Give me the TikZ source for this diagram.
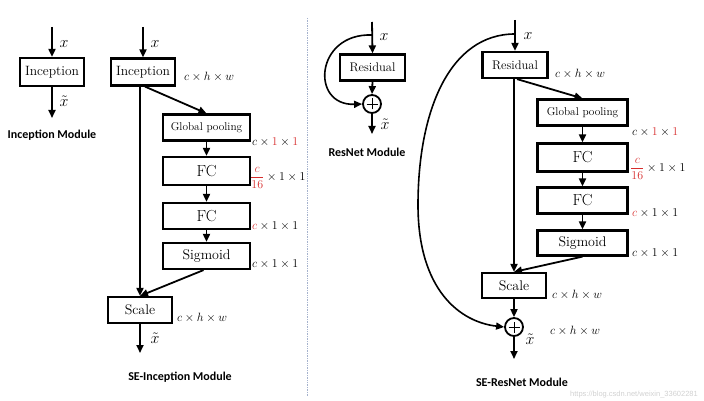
\RequirePackage{fix-cm}
\documentclass[tikz,border=0pt]{standalone}
\usepackage{fontspec}
\newfontfamily\titlefont{Carlito}
\newfontfamily\wmfont{Liberation Sans}
\usetikzlibrary{arrows.meta}
\definecolor{sered}{RGB}{215,45,45}
\definecolor{divc}{RGB}{165,178,205}
\begin{document}
\begin{tikzpicture}[x=1pt,y=-1pt,
  blk/.style={draw, line width=2.2pt, inner sep=0pt, minimum height=26pt},
  arr/.style={line width=1.8pt, -{Triangle[length=8pt,width=7pt]}},
  lbl/.style={anchor=west, inner sep=0pt, font=\fontsize{12}{14}\selectfont},
  xl/.style={inner sep=0pt, font=\fontsize{16}{18}\selectfont},
  ttl/.style={inner sep=0pt, font=\titlefont\bfseries\fontsize{12}{14}\selectfont},
  sumc/.style={draw, circle, line width=1.8pt, minimum size=18pt, inner sep=0pt,
    path picture={\draw[line width=0.7pt]
      ([xshift=-5.5pt]path picture bounding box.center) -- ([xshift=5.5pt]path picture bounding box.center)
      ([yshift=-5.5pt]path picture bounding box.center) -- ([yshift=5.5pt]path picture bounding box.center);}}
]
\useasboundingbox (0,0) rectangle (704,401);

% ---------- Inception Module ----------
\coordinate (a0) at (52,27);
\node[blk, minimum width=64pt, minimum height=28pt, font=\rmfamily\fontsize{13.5}{15}\selectfont] (inc1) at (52,72) {Inception};
\coordinate (a1) at (52,118);
\draw[arr] (a0) -- (inc1.north);
\draw[arr] (inc1.south) -- (a1);
\node[xl] (x1) at (64,44) {$x$};
\node[xl] (xt1) at (64,101) {$\tilde{x}$};
\node[ttl] (t1) at (52,135) {Inception Module};

% ---------- SE-Inception Module ----------
\coordinate (b0) at (143,27);
\node[blk, minimum width=64pt, minimum height=27pt, font=\rmfamily\fontsize{13.5}{15}\selectfont] (inc2) at (143,72) {Inception};
\node[blk, minimum width=87pt, font=\rmfamily\fontsize{11.3}{13}\selectfont] (gp1) at (206.5,127.5) {Global pooling};
\node[blk, minimum width=87pt, minimum height=28pt, font=\rmfamily\fontsize{16}{18}\selectfont] (fca1) at (206.5,171) {FC};
\node[blk, minimum width=87pt, font=\rmfamily\fontsize{16}{18}\selectfont] (fcb1) at (206.5,216) {FC};
\node[blk, minimum width=87pt, font=\rmfamily\fontsize{14}{16}\selectfont] (sig1) at (206.5,256) {Sigmoid};
\node[blk, minimum width=64pt, font=\rmfamily\fontsize{14}{16}\selectfont] (sc1) at (140,310) {Scale};
\coordinate (b1) at (140,353);
\draw[arr] (b0) -- (inc2.north);
\draw[arr] ([xshift=2pt]inc2.south) -- (gp1.north);
\draw[arr] (gp1) -- (fca1);
\draw[arr] (fca1) -- (fcb1);
\draw[arr] (fcb1) -- (sig1);
\draw[arr] ([xshift=-3pt]sig1.south) -- (sc1.north);
\draw[arr] (sc1.north |- inc2.south) -- (sc1.north);
\draw[arr] (sc1.south) -- (b1);
\node[xl] (x2) at (155,44) {$x$};
\node[xl] (xt2) at (155,338) {$\tilde{x}$};
\node[lbl] (l21) at (184,77) {$c\times h\times w$};
\node[lbl] (l22) at (252,142) {$c\times{\color{sered}1}\times{\color{sered}1}$};
\node[lbl] (l23) at (250,178) {$\displaystyle{\color{sered}\frac{c}{16}}\times 1\times 1$};
\node[lbl] (l24) at (252,226) {${\color{sered}c}\times 1\times 1$};
\node[lbl] (l25) at (252,264) {$c\times 1\times 1$};
\node[lbl] (l26) at (177,318) {$c\times h\times w$};
\node[ttl] (t2) at (180,377) {SE-Inception Module};

% ---------- divider ----------
\coordinate (d0) at (307,18);
\coordinate (d1) at (307,396);
\draw[divc, line width=0.7pt, densely dotted] (d0) -- (d1);

% ---------- ResNet Module ----------
\coordinate (r0) at (372,22);
\coordinate (rj) at (372,35);
\node[blk, minimum width=65pt, font=\rmfamily\fontsize{12.5}{14}\selectfont] (res1) at (372.5,67.5) {Residual};
\node[sumc] (c1) at (372,104) {};
\coordinate (r1) at (372,134);
\draw[arr] (r0) -- (res1.north);
\draw[arr] (res1.south) -- (c1.north);
\draw[arr] (c1.south) -- (r1);
\draw[arr, line width=1.6pt] (rj) .. controls (315,33) and (310,106) .. (c1.west);
\node[xl] (x3) at (384,37) {$x$};
\node[xl] (xt3) at (385,124) {$\tilde{x}$};
\node[ttl] (t3) at (367,152) {ResNet Module};

% ---------- SE-ResNet Module ----------
\coordinate (s0) at (515,20);
\coordinate (sj) at (515,34);
\coordinate (sl) at (418,205);
\node[blk, minimum width=65pt, font=\rmfamily\fontsize{12.5}{14}\selectfont] (res2) at (515,65) {Residual};
\node[blk, minimum width=90pt, font=\rmfamily\fontsize{11.3}{13}\selectfont] (gp2) at (582.5,112.5) {Global pooling};
\node[blk, minimum width=90pt, minimum height=28pt, font=\rmfamily\fontsize{16}{18}\selectfont] (fca2) at (582.5,157.5) {FC};
\node[blk, minimum width=90pt, font=\rmfamily\fontsize{16}{18}\selectfont] (fcb2) at (582.5,200.5) {FC};
\node[blk, minimum width=90pt, minimum height=25pt, font=\rmfamily\fontsize{14}{16}\selectfont] (sig2) at (582.5,243) {Sigmoid};
\node[blk, minimum width=64pt, minimum height=25pt, font=\rmfamily\fontsize{14}{16}\selectfont] (sc2) at (514,285.5) {Scale};
\node[sumc] (c2) at (514,327) {};
\coordinate (s1) at (514,359);
\draw[arr] (s0) -- (res2.north);
\draw[arr] ([xshift=2pt]res2.south) -- (gp2.north);
\draw[arr] (gp2) -- (fca2);
\draw[arr] (fca2) -- (fcb2);
\draw[arr] (fcb2) -- (sig2);
\draw[arr] (sig2.south) -- (sc2.north);
\draw[arr] (sc2.north |- res2.south) -- (sc2.north);
\draw[arr] (sc2.south) -- (c2.north);
\draw[arr] (c2.south) -- (s1);
\draw[arr, line width=1.6pt] (sj) .. controls (450,34) and (418,110) .. (sl)
   .. controls (418,290) and (460,322) .. (c2.west);
\node[xl] (x4) at (528,36) {$x$};
\node[xl] (xt4) at (530,339) {$\tilde{x}$};
\node[lbl] (l41) at (555,74) {$c\times h\times w$};
\node[lbl] (l42) at (632,132) {$c\times{\color{sered}1}\times{\color{sered}1}$};
\node[lbl] (l43) at (630,169) {$\displaystyle{\color{sered}\frac{c}{16}}\times 1\times 1$};
\node[lbl] (l44) at (632,213) {${\color{sered}c}\times 1\times 1$};
\node[lbl] (l45) at (632,253) {$c\times 1\times 1$};
\node[lbl] (l46) at (552,295) {$c\times h\times w$};
\node[lbl] (l47) at (550,331) {$c\times h\times w$};
\node[ttl] (t4) at (522,382) {SE-ResNet Module};
\node[anchor=west, inner sep=0pt, text=black!18, font=\wmfont\fontsize{7.5}{9}\selectfont] (wm) at (570,395) {https://blog.csdn.net/weixin\_33602281};
\end{tikzpicture}
\end{document}
